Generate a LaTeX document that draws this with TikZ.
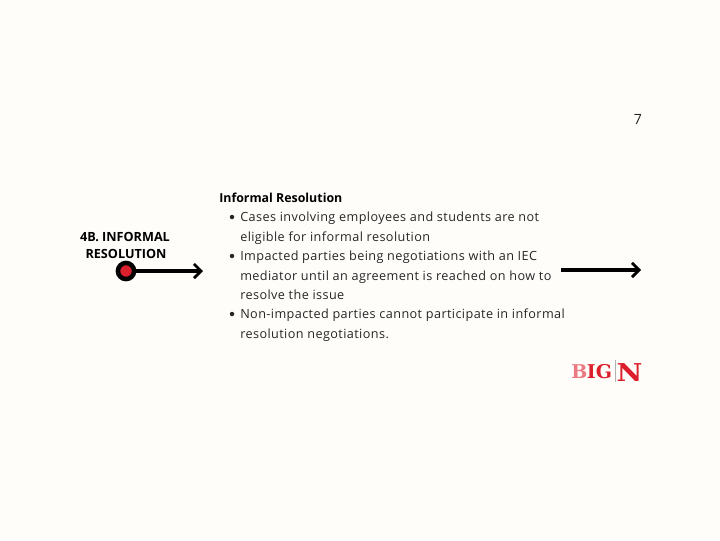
\documentclass[tikz,border=0pt]{standalone}
\usepackage{fontspec}
\setmainfont{Open Sans}
\newfontfamily\logofont{DejaVu Serif}
\usetikzlibrary{arrows.meta}
\definecolor{pagecream}{HTML}{FFFDFA}
\definecolor{bigred}{HTML}{DC1F2D}
\definecolor{bodygray}{HTML}{262626}
\tikzset{
	bodyline/.style={anchor=base west,inner sep=0pt,text=bodygray,font=\fontsize{9pt}{11pt}\selectfont\addfontfeatures{LetterSpace=3.2}},
	itemdot/.style={circle,fill=bodygray,inner sep=0pt,minimum size=3.2pt},
	steplabel/.style={anchor=base,inner sep=0pt,font=\fontsize{9pt}{11pt}\bfseries\selectfont},
	bigarrow/.style={line width=2.2pt,-{Straight Barb[length=5pt,width=10pt,line width=2pt]}},
	logotext/.style={anchor=base,inner sep=0pt,text=bigred,font=\logofont\bfseries\fontsize{13.5pt}{15pt}\selectfont}
}
\begin{document}
\begin{tikzpicture}[x=0.025cm,y=-0.025cm]
	\fill[pagecream] (0,0) rectangle (720,540);
	\useasboundingbox (0,0) rectangle (720,540);
	\node[anchor=base,inner sep=0pt,text=bodygray,font=\fontsize{10pt}{12pt}\selectfont] (pagenum) at (638,124) {7};
	%% left marker
	\node[steplabel] (labelone) at (125,241) {4B. INFORMAL};
	\node[steplabel] (labeltwo) at (126,258) {RESOLUTION};
	\node[circle,draw=black,fill=bigred,line width=3.2pt,minimum size=11.5pt,inner sep=0pt] (marker) at (126,271) {};
	\coordinate (markerend) at (203,271);
	\draw[bigarrow] (marker) -- (markerend);
	%% text block
	\node[anchor=base west,inner sep=0pt,font=\fontsize{8.8pt}{11pt}\bfseries\selectfont] (title) at (219,202) {Informal Resolution};
	\node[bodyline] (lineone) at (240,221) {Cases involving employees and students are not};
	\node[bodyline] (linetwo) at (240,241) {eligible for informal resolution};
	\node[bodyline] (linethree) at (240,260) {Impacted parties being negotiations with an IEC};
	\node[bodyline] (linefour) at (240,280) {mediator until an agreement is reached on how to};
	\node[bodyline] (linefive) at (240,299) {resolve the issue};
	\node[bodyline] (linesix) at (240,318) {Non-impacted parties cannot participate in informal};
	\node[bodyline] (lineseven) at (240,338) {resolution negotiations.};
	\foreach \y/\dotname in {217/dotone,256/dottwo,314/dotthree}{
		\node[itemdot] (\dotname) at (232,\y) {};
	}
	%% right arrow
	\coordinate (rightstart) at (561,270);
	\coordinate (rightend) at (641,270);
	\draw[bigarrow] (rightstart) -- (rightend);
	%% logo
	\node[logotext,text=bigred!60] (logob) at (579.5,378) {B};
	\node[logotext] (logoig) at (599.5,378) {IG};
	\draw[gray!60,line width=0.6pt] (615.5,360) -- (615.5,382);
	\node[logotext,font=\logofont\bfseries\fontsize{17.5pt}{19pt}\selectfont,xscale=1.15] (logon) at (629.5,381) {N};
\end{tikzpicture}
\end{document}
